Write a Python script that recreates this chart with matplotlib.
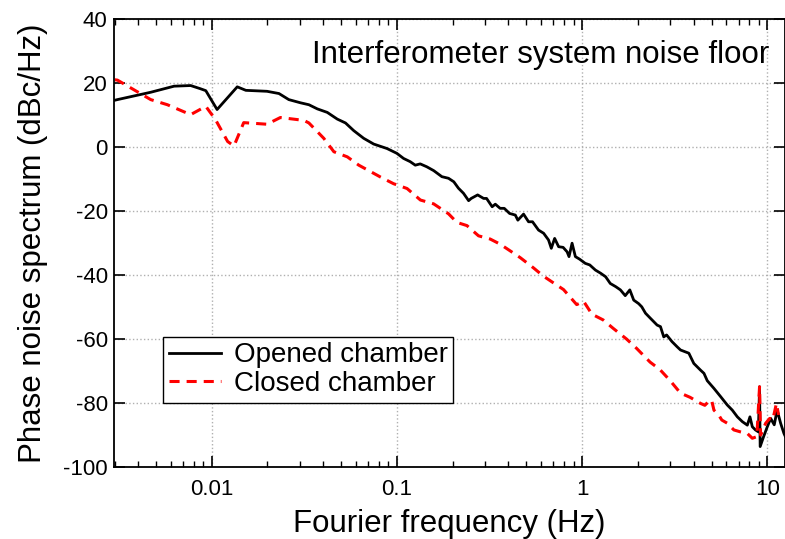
import numpy as np
import matplotlib
matplotlib.use("Agg")
import matplotlib.pyplot as plt
from matplotlib.ticker import LogLocator, FixedLocator, NullFormatter

plt.rcParams['font.family'] = ['Liberation Sans', 'DejaVu Sans']
plt.rcParams['axes.unicode_minus'] = False

# phase noise of the interferometer, opened chamber (Hz, dBc/Hz)
open_freq = [0.0030, 0.0031, 0.00469, 0.00627, 0.0077, 0.0087, 0.0093, 0.0107, 0.01375,
             0.0153, 0.0199, 0.0231, 0.0261, 0.0302, 0.0335, 0.0372, 0.0421, 0.0477,
             0.0528, 0.0585, 0.0662, 0.075, 0.0885, 0.1, 0.1087, 0.118, 0.1257, 0.1337,
             0.145, 0.158, 0.175, 0.19, 0.203, 0.215, 0.229, 0.244, 0.252, 0.273,
             0.294, 0.305, 0.327, 0.34, 0.361, 0.38, 0.406, 0.436, 0.45, 0.483,
             0.514, 0.54, 0.582, 0.62, 0.659, 0.682, 0.711, 0.747, 0.79, 0.83,
             0.85, 0.883, 0.92, 0.97, 1.04, 1.10, 1.18, 1.26, 1.34, 1.42,
             1.52, 1.61, 1.71, 1.81, 1.90, 2.02, 2.10, 2.20, 2.34, 2.54,
             2.65, 2.76, 2.86, 3.06, 3.26, 3.40, 3.77, 4.01, 4.36, 4.55,
             4.74, 5.15, 5.60, 6.08, 6.47, 6.89, 7.33, 7.80, 8.06, 8.30,
             8.63, 8.95, 9.08, 9.15, 9.55, 10.0, 10.43, 10.9, 11.3, 11.8,
             12.3, 12.5]
open_db = [14.6, 14.8, 17.1, 19.0, 19.2, 18.2, 17.6, 11.7, 18.8,
           17.7, 17.4, 16.7, 14.8, 13.8, 13.2, 11.9, 10.8, 8.7,
           7.5, 5.1, 2.7, 0.9, -0.5, -2.0, -3.6, -4.6, -5.7, -5.3,
           -6.2, -7.4, -9.3, -9.8, -10.9, -12.9, -14.5, -16.8, -16.1, -15.0,
           -16.1, -16.1, -18.7, -17.9, -19.2, -19.2, -20.8, -21.3, -22.9, -21.0,
           -23.4, -23.4, -26.0, -27.0, -29.1, -31.7, -28.6, -31.2, -31.4, -32.8,
           -34.3, -30.1, -34.3, -35.1, -36.4, -36.9, -38.5, -39.5, -40.6, -42.7,
           -43.7, -44.7, -46.5, -44.7, -47.9, -49.0, -50.0, -52.0, -53.6, -55.7,
           -56.2, -59.4, -58.8, -60.9, -62.5, -63.5, -64.5, -67.7, -69.8, -70.8,
           -73.1, -75.5, -78.1, -80.7, -82.3, -84.4, -85.9, -87.0, -84.4, -87.5,
           -88.5, -89.1, -75.0, -93.7, -90.6, -87.5, -84.9, -86.9, -82.3, -86.4,
           -89.6, -90.5]

# phase noise of the interferometer, closed chamber (Hz, dBc/Hz)
closed_freq = [0.0030, 0.0031, 0.00469, 0.00577, 0.0077, 0.0093, 0.0105, 0.0122, 0.0132,
               0.0149, 0.0199, 0.0235, 0.0315, 0.0335, 0.0403, 0.0457, 0.054, 0.0623,
               0.0815, 0.096, 0.1135, 0.134, 0.158, 0.179, 0.19, 0.211, 0.239, 0.276,
               0.319, 0.361, 0.409, 0.463, 0.546, 0.618, 0.70, 0.794, 0.935, 1.02,
               1.13, 1.30, 1.47, 1.74, 1.97, 2.33, 2.63, 2.98, 3.40, 3.83, 4.36,
               4.6, 4.8, 5.0, 5.15, 5.46, 5.68, 6.08, 6.6, 7.16, 7.8,
               8.3, 8.78, 9.08, 9.2, 9.8, 10.3, 10.7, 11.2, 11.5]
closed_db = [21.0, 20.9, 14.8, 13.2, 10.1, 12.7, 8.5, 1.7, 0.3,
             7.6, 7.1, 9.2, 8.3, 7.5, 2.7, -1.5, -3.1, -5.7,
             -9.4, -11.5, -13.0, -16.6, -17.8, -19.9, -20.9, -23.6, -24.6, -27.8,
             -28.8, -30.4, -32.5, -34.6, -37.8, -40.4, -42.5, -44.6, -49.3, -48.3,
             -52.3, -54.1, -56.7, -60.1, -63.0, -67.3, -69.6, -73.0, -77.0, -78.3, -80.2,
             -80.8, -79.7, -79.1, -82.3, -83.8, -85.4, -86.4, -88.5, -89.1, -89.6,
             -91.1, -90.6, -75.0, -90.1, -86.4, -84.9, -85.4, -80.2, -83.8]

fig = plt.figure(figsize=(7.85, 5.39), dpi=100)
ax = fig.add_axes([0.1452, 0.1341, 0.8548, 0.8306])

ax.plot(open_freq, open_db, color='black', lw=2.0, label='Opened chamber')
ax.plot(closed_freq, closed_db, color='red', lw=2.2, dashes=(3.3, 2.3),
        label='Closed chamber')

ax.set_xscale('log')
ax.set_xlim(0.00297, 12.46)
ax.set_ylim(-100, 40)
ax.set_yticks([-100, -80, -60, -40, -20, 0, 20, 40])
ax.xaxis.set_major_locator(FixedLocator([0.01, 0.1, 1, 10]))
ax.set_xticklabels(['0.01', '0.1', '1', '10'])
ax.xaxis.set_minor_locator(LogLocator(base=10, subs=np.arange(2, 10)))
ax.xaxis.set_minor_formatter(NullFormatter())

ax.tick_params(which='both', direction='in', top=True, right=True,
               labelsize=16, colors='black')
ax.tick_params(which='major', length=8, width=1.2)
ax.tick_params(which='minor', length=4, width=1.0)
ax.tick_params(axis='x', which='major', pad=9)
ax.tick_params(axis='y', which='major', pad=4.5)
for s in ax.spines.values():
    s.set_linewidth(1.3)

ax.grid(True, which='major', color='#b0b0b0', linestyle=':', linewidth=1.0)

ax.set_xlabel('Fourier frequency (Hz)', fontsize=22.5, labelpad=6)
ax.set_ylabel('Phase noise spectrum (dBc/Hz)', fontsize=22.5, labelpad=11)

ax.text(0.976, 0.902, 'Interferometer system noise floor', transform=ax.transAxes,
        ha='right', va='baseline', fontsize=22.5)

leg = ax.legend(loc='lower left', bbox_to_anchor=(0.073, 0.143), borderaxespad=0,
                fontsize=20, fancybox=False, edgecolor='black', framealpha=1,
                borderpad=0.2, labelspacing=0.1, handlelength=1.9, handletextpad=0.45)
leg.get_frame().set_linewidth(1.0)

fig.savefig('out.png', dpi=100)
